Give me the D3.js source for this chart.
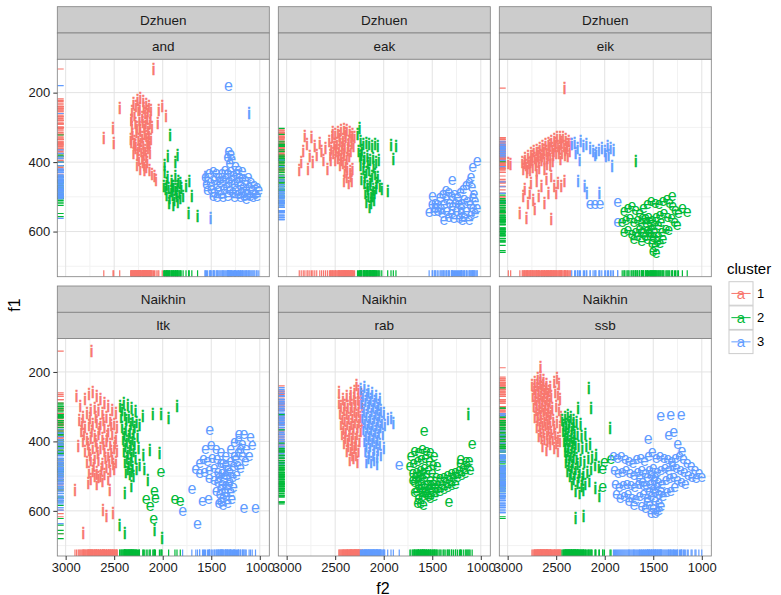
<!DOCTYPE html>
<html>
<head>
<meta charset="utf-8">
<script src="https://cdn.jsdelivr.net/npm/d3@7"></script>
<style>
body { margin: 0; background: #fff; }
text { font-family: "Liberation Sans", Arial, sans-serif; }
</style>
</head>
<body>
<script>
// facet labels
var dialects = ["Dzhuen", "Dzhuen", "Dzhuen", "Naikhin", "Naikhin", "Naikhin"];
var speakers = ["and", "eak", "eik", "ltk", "rab", "ssb"];
var clusters = ["1", "2", "3"];
var xTicks = [3000, 2500, 2000, 1500, 1000];
var xMinor = [2750, 2250, 1750, 1250];
var yTicks = [200, 400, 600];
var yMinor = [300, 500, 700];

// [f2, f1] per speaker / cluster / vowel
var and_1i = [[2095,132],[2443,245],[2324,279],[2512,303],[2607,331],[2505,346],[2324,344],[2280,353],
  [2300,230],[2260,222],[2230,218],[2200,225],[2170,235],[2140,240],[2120,250],[2180,260],[2250,250],[2290,265],
  [2320,280],[2280,290],[2240,280],[2210,270],[2160,275],[2130,290],[2110,300],[2150,305],[2190,300],[2230,310],
  [2270,315],[2310,320],[2330,335],[2290,340],[2250,335],[2210,330],[2170,325],[2140,320],[2120,335],[2160,345],
  [2200,350],[2240,355],[2280,360],[2300,375],[2260,380],[2220,370],[2180,365],[2150,360],[2130,375],[2170,385],
  [2210,390],[2245,395],[2190,410],[2160,400],[2187,423],[2136,423],[2085,442],[2068,452],[2110,435],[2230,420],
  [2265,410],[2005,240],[1966,268],[2040,250],[2050,290],
  [2315,255],[2275,240],[2235,245],[2195,245],[2155,255],[2125,270],[2205,285],[2265,300],[2185,320],[2225,340],
  [2145,335],[2295,350],[2255,365],[2195,375],[2135,350],[2235,300],[2175,290],[2315,300],[2205,400],[2170,415]];
var and_2i = [[1925,322],[1949,384],[1847,380],[1870,400],[1980,430],[1960,460],[1940,475],[1910,455],[1890,470],
  [1870,480],[1850,470],[1830,490],[1810,475],[1790,500],[1960,495],[1930,505],[1900,495],[1880,510],[1855,500],
  [1820,505],[1990,470],[1915,485],[1727,456],[1700,500],[1733,548],[1641,557],[1760,470],[1870,440],[1840,455],[1980,410],
  [1950,445],[1905,470],[1860,490],[1820,460],[1970,480],[1845,515],[1890,525],[1935,520]];
var and_3e = [[1324,180],[1320,365],[1300,375],[1330,385],[1290,390],[1310,400],[1560,440],[1520,430],[1480,425],
  [1450,430],[1420,440],[1390,430],[1360,420],[1330,430],[1300,425],[1270,435],[1240,430],[1210,440],[1180,445],
  [1150,450],[1120,440],[1090,455],[1060,465],[1030,470],[1010,480],[1550,460],[1510,455],[1470,450],[1440,460],
  [1410,455],[1380,450],[1350,445],[1320,455],[1290,450],[1260,460],[1230,455],[1200,465],[1170,470],[1140,475],
  [1110,470],[1080,480],[1050,490],[1540,480],[1500,475],[1470,485],[1430,480],[1400,490],[1370,475],[1340,470],
  [1310,480],[1280,485],[1250,480],[1220,490],[1190,485],[1160,495],[1130,490],[1100,495],[1070,500],[1030,495],
  [1480,495],[1440,500],[1380,500],[1330,495],[1260,500],[1200,500],[1140,505],[1220,420],[1180,425],[1250,410]];
var and_3i = [[1112,260],[1508,562],[1565,445]];

var eak_1i = [[2870,423],[2829,370],[2812,325],[2744,328],[2761,385],[2710,356],[2659,347],[2850,400],[2790,350],
  [2730,400],[2690,380],[2780,420],[2640,370],[2600,360],[2620,395],[2580,420],[2560,340],[2530,330],[2500,320],
  [2470,315],[2440,310],[2410,305],[2380,310],[2350,315],[2320,320],[2300,330],[2540,360],[2510,350],[2480,345],
  [2450,340],[2420,335],[2390,330],[2360,340],[2330,345],[2310,355],[2550,380],[2520,375],[2490,370],[2460,365],
  [2430,360],[2400,355],[2370,365],[2340,370],[2500,395],[2470,390],[2440,385],[2410,380],[2380,390],[2450,410],
  [2420,405],[2400,430],[2380,445],[2360,460],[2340,440],[2320,420],[2330,455],[2390,410],
  [2525,315],[2455,325],[2395,318],[2335,330],[2495,358],[2425,348],[2365,352],[2545,395],[2465,378],[2405,368],
  [2355,385],[2435,395],[2375,420],[2345,428],[2410,455]];
var eak_2i = [[2249,303],[2270,320],[2240,340],[2210,350],[2180,345],[2150,350],[2120,355],[2090,350],[2060,355],
  [1925,351],[1874,355],[1901,393],[1959,484],[2260,370],[2230,380],[2200,390],[2170,385],[2140,395],[2110,390],
  [2080,400],[2050,395],[2240,410],[2210,420],[2180,430],[2150,425],[2120,440],[2090,435],[2060,445],[2230,450],
  [2200,460],[2170,470],[2140,465],[2110,480],[2080,475],[2190,490],[2160,500],[2130,495],[2100,510],[2180,515],
  [2130,520],[2040,470],[2020,480],
  [2225,365],[2165,405],[2105,415],[2195,445],[2135,455],[2075,460],[2165,480],[2115,500],[2145,530],[2095,490],
  [2205,400],[2245,385]];
var eak_3e = [[1038,394],[1082,413],[1294,451],[1498,495],[1532,542],[1379,566],[1191,566],[1450,520],[1420,500],
  [1390,490],[1360,480],[1330,485],[1300,495],[1270,490],[1240,500],[1210,485],[1180,475],[1150,465],[1120,455],
  [1100,440],[1090,470],[1070,490],[1060,510],[1080,530],[1110,520],[1140,510],[1170,505],[1200,515],[1230,520],
  [1260,515],[1290,525],[1320,515],[1350,505],[1380,520],[1410,530],[1440,540],[1470,530],[1500,520],[1350,540],
  [1300,545],[1250,540],[1200,545],[1150,540],[1100,550],[1060,545],[1120,565],[1170,555],[1220,560],[1280,560],
  [1330,555],[1400,545],[1470,515],[1480,540],[1200,530],[1080,500],[1040,530]];

var eik_1i = [[2413,187],[2993,403],[2969,408],[2850,400],[2820,390],[2790,385],[2760,375],[2730,370],[2700,365],
  [2670,360],[2640,355],[2610,350],[2580,345],[2550,340],[2520,335],[2490,330],[2460,330],[2430,330],[2400,335],
  [2370,340],[2350,350],[2840,420],[2810,410],[2780,405],[2750,395],[2720,390],[2690,385],[2660,380],[2630,375],
  [2600,370],[2570,365],[2540,360],[2510,355],[2480,355],[2450,350],[2420,355],[2390,360],[2360,370],[2800,430],
  [2770,425],[2740,415],[2710,410],[2680,400],[2650,395],[2620,395],[2590,390],[2560,385],[2530,380],[2500,375],
  [2470,375],[2440,375],[2410,380],[2380,385],[2700,430],[2620,420],[2560,410],[2874,547],[2805,561],[2737,509],
  [2550,566],[2498,490],[2447,471],[2413,457],[2823,480],[2771,490],[2760,460],[2700,455],[2650,470],[2600,450],
  [2550,440],[2520,470],[2480,460],[2840,500],[2790,520],[2720,535],[2680,500],[2620,520],[2580,490],
  [2825,405],[2765,400],[2705,395],[2645,385],[2585,380],[2525,368],[2465,362],[2405,365],[2745,385],[2685,375],
  [2625,365],[2565,352],[2505,345],[2445,342],[2385,348],[2795,418],[2675,418],[2595,408],[2535,398],[2455,392]];
var eik_3i = [[2340,350],[2310,345],[2280,360],[2250,340],[2220,355],[2190,350],[2150,360],[2120,370],[2090,375],
  [2060,365],[2030,360],[2000,370],[1970,355],[1940,360],[1910,365],[1990,385],[1960,380],[2100,380],[2276,457],
  [2208,471],[2184,490],[2055,490],[1925,413],[2300,375],[2260,395]];
var eik_3e = [[2150,518],[2100,518],[2050,518],[1867,514],[1867,571]];
var eik_2i = [[1679,399]];
var eik_2e = [[1150,542],[1253,580],[1304,495],[1800,540],[1760,530],[1720,525],[1680,535],[1640,545],[1600,530],
  [1560,520],[1520,510],[1480,515],[1440,520],[1400,510],[1360,505],[1330,515],[1300,525],[1270,535],[1240,545],
  [1200,530],[1820,570],[1780,565],[1740,560],[1700,570],[1660,565],[1620,575],[1580,560],[1550,555],[1510,565],
  [1470,555],[1430,550],[1390,545],[1350,555],[1310,560],[1280,570],[1760,595],[1720,605],[1680,600],[1640,590],
  [1600,600],[1560,595],[1520,590],[1490,600],[1450,610],[1410,600],[1370,590],[1340,595],[1700,620],[1620,625],
  [1560,620],[1510,630],[1480,640],[1430,630],[1400,620],[1500,655],[1470,660],[1530,610],[1800,600],
  [1610,560],[1570,575],[1530,570],[1490,580],[1450,580],[1620,600],[1540,600],[1580,610],[1500,615],[1460,625],
  [1660,610],[1420,570]];

var ltk_1i = [[2734,140],[2887,270],[2819,666],[2614,598],[2580,617],[2512,608],[2546,540],[2904,540],[2768,521],
  [2870,415],[2850,300],[2800,280],[2760,265],[2720,260],[2680,270],[2640,280],[2600,290],[2560,300],[2520,310],
  [2480,320],[2860,340],[2820,330],[2780,320],[2740,310],[2700,305],[2660,310],[2620,320],[2580,330],[2540,340],
  [2500,350],[2470,360],[2840,370],[2800,360],[2760,355],[2720,350],[2680,345],[2640,350],[2600,360],[2560,370],
  [2520,380],[2480,390],[2820,400],[2780,395],[2740,390],[2700,385],[2660,380],[2620,390],[2580,400],[2540,410],
  [2500,420],[2470,430],[2800,430],[2760,425],[2720,420],[2680,415],[2640,420],[2600,430],[2560,440],[2520,450],
  [2480,460],[2780,460],[2740,455],[2700,450],[2660,455],[2620,465],[2580,475],[2540,485],[2500,480],[2760,490],
  [2720,485],[2680,490],[2640,500],[2600,495],[2560,510],[2740,510],[2680,525],
  [2830,350],[2750,335],[2690,330],[2610,340],[2530,355],[2810,380],[2730,370],[2650,365],[2570,385],[2490,405],
  [2770,410],[2690,400],[2610,410],[2530,430],[2750,440],[2670,435],[2590,450],[2510,465],[2710,470],[2630,480],
  [2550,460],[2660,505],[2700,500],[2620,515]];
var ltk_2i = [[2205,328],[2102,323],[2017,323],[1939,333],[1853,299],[2133,425],[2034,434],[2153,511],[2392,550],
  [2444,641],[2392,666],[2085,656],[2007,680],[2324,531],[2440,300],[2400,290],[2360,295],[2320,305],[2280,315],
  [2430,330],[2390,325],[2350,330],[2310,340],[2270,345],[2240,355],[2420,360],[2380,365],[2340,370],[2300,375],
  [2260,385],[2410,395],[2370,400],[2330,405],[2290,410],[2250,420],[2400,430],[2360,435],[2320,440],[2280,450],
  [2390,460],[2350,465],[2310,475],[2270,480],[2380,490],[2340,495],[2300,500],[2240,470],[2200,440],[2190,480],
  [2420,310],[2375,340],[2330,350],[2290,360],[2395,380],[2350,385],[2310,395],[2385,415],[2340,420],[2300,430],
  [2370,450],[2330,455],[2360,480],[2320,485]];
var ltk_2e = [[2017,487],[2170,564],[2129,584],[2085,540],[2075,560],[2092,622],[1874,564],[1819,571]];
var ltk_3e = [[1515,365],[1659,478],[1795,598],[1700,535],[1642,637],[1590,569],[1529,564],[1164,591],[1044,591],
  [1215,376],[1164,376],[1096,386],[1078,410],[1560,420],[1500,410],[1450,420],[1400,430],[1350,440],[1300,420],
  [1260,400],[1220,395],[1180,405],[1140,420],[1110,440],[1620,460],[1580,450],[1540,455],[1490,445],[1440,450],
  [1400,460],[1350,465],[1300,455],[1260,440],[1220,430],[1180,440],[1150,455],[1620,490],[1570,485],[1520,480],
  [1470,475],[1430,485],[1390,490],[1350,495],[1310,485],[1270,470],[1230,465],[1200,475],[1520,505],[1470,510],
  [1430,515],[1390,520],[1350,525],[1310,515],[1280,500],[1240,495],[1450,540],[1410,550],[1380,560],[1340,555],
  [1300,545],[1270,530],[1420,575],[1380,580],[1330,575],[1290,565],[1400,570],
  [1380,460],[1330,480],[1420,500],[1370,505],[1330,535],[1400,535],[1360,545],[1320,520],[1250,450],[1200,420]];

var rab_1i = [[2460,290],[2420,280],[2380,270],[2340,262],[2300,255],[2260,255],[2230,265],[2450,320],[2410,310],
  [2370,300],[2330,295],[2290,290],[2250,290],[2220,300],[2440,350],[2400,340],[2360,335],[2320,330],[2280,325],
  [2240,330],[2220,345],[2430,380],[2390,370],[2350,365],[2310,360],[2270,360],[2235,370],[2410,405],[2370,400],
  [2330,395],[2290,395],[2250,400],[2380,430],[2340,425],[2300,420],[2260,430],[2350,455],[2310,450],[2270,460],
  [2460,260],[2280,240],
  [2440,300],[2400,295],[2345,280],[2305,275],[2265,280],[2425,335],[2380,320],[2340,310],[2300,310],[2260,310],
  [2415,365],[2375,352],[2335,350],[2295,345],[2255,345],[2395,390],[2355,385],[2315,380],[2275,380],[2365,415],
  [2325,410],[2285,410],[2325,440],[2285,440]];
var rab_3i = [[2240,250],[2200,245],[2160,255],[2120,262],[2080,270],[2040,280],[2230,290],[2190,285],[2150,290],
  [2110,300],[2070,305],[2030,310],[2000,320],[2220,330],[2180,325],[2140,330],[2100,335],[2060,340],[2020,345],
  [1990,355],[2210,365],[2170,360],[2130,365],[2090,370],[2050,375],[2010,380],[2200,400],[2160,395],[2120,400],
  [2080,405],[2040,410],[2000,420],[2190,430],[2150,435],[2110,440],[2070,445],[2030,440],[2180,460],[2130,460],
  [2070,465],[1959,338],[1925,333],[1901,348],
  [2215,270],[2175,268],[2135,278],[2095,285],[2055,295],[2205,310],[2165,305],[2125,315],[2085,320],[2045,325],
  [2195,345],[2155,345],[2115,350],[2075,355],[2035,360],[2185,380],[2145,380],[2105,385],[2065,390],[2180,415],
  [2140,415],[2100,420],[2060,425],[2160,448],[2100,455]];
var rab_3e = [[1840,465]];
var rab_2e = [[1584,367],[1089,405],[1328,574],[1208,448],[1720,440],[1680,425],[1640,430],[1600,420],[1560,425],
  [1520,430],[1480,440],[1730,470],[1690,460],[1650,455],[1610,450],[1570,445],[1530,455],[1490,465],[1450,470],
  [1700,490],[1660,485],[1620,480],[1580,475],[1540,480],[1500,490],[1460,500],[1420,505],[1380,500],[1340,495],
  [1300,490],[1260,485],[1220,480],[1180,475],[1140,470],[1110,480],[1680,515],[1640,510],[1600,505],[1560,500],
  [1520,510],[1480,520],[1440,525],[1400,520],[1360,515],[1320,510],[1280,505],[1240,500],[1200,495],[1160,490],
  [1660,540],[1620,535],[1580,530],[1540,535],[1500,540],[1460,545],[1420,540],[1380,535],[1340,530],[1300,525],
  [1260,520],[1640,560],[1600,555],[1560,550],[1520,560],[1480,555],[1620,575],[1590,580],[1650,575],[1150,455],
  [1210,460],[1120,455],
  [1700,510],[1670,500],[1630,495],[1590,490],[1550,520],[1510,525],[1470,530],[1610,520],[1575,545],[1540,555],
  [1600,540],[1640,525],[1680,545]];
var rab_2i = [[1130,323]];

var ssb_1i = [[2662,188],[2750,240],[2720,230],[2690,220],[2660,215],[2630,225],[2600,235],[2560,245],[2520,230],
  [2490,220],[2470,235],[2740,270],[2710,260],[2680,250],[2650,245],[2620,255],[2590,265],[2550,270],[2510,260],
  [2480,265],[2460,280],[2730,300],[2700,290],[2670,285],[2640,280],[2610,290],[2580,300],[2540,305],[2500,300],
  [2470,310],[2450,330],[2720,330],[2690,325],[2660,320],[2630,315],[2600,325],[2570,335],[2530,340],[2490,345],
  [2460,360],[2700,360],[2670,355],[2640,350],[2610,355],[2580,365],[2550,375],[2510,380],[2480,390],[2680,385],
  [2650,390],[2620,395],[2590,400],[2560,410],[2520,420],[2480,430],[2640,415],[2600,425],[2460,400],
  [2725,250],[2695,240],[2665,232],[2635,240],[2605,250],[2575,255],[2715,280],[2685,270],[2655,265],[2625,270],
  [2595,280],[2565,285],[2705,310],[2675,305],[2645,300],[2615,305],[2585,315],[2555,320],[2690,340],[2655,335],
  [2620,340],[2590,345],[2560,350],[2520,360],[2660,370],[2630,375],[2595,380],[2565,390],[2535,395],[2500,405]];
var ssb_2i = [[2164,246],[2140,304],[1945,362],[2276,304],[2300,622],[2218,617],[2096,535],[2055,559],[2440,340],
  [2410,330],[2380,325],[2350,330],[2320,340],[2290,345],[2250,350],[2430,370],[2400,365],[2370,360],[2340,365],
  [2310,375],[2280,380],[2240,385],[2200,380],[2420,400],[2390,395],[2360,400],[2330,405],[2300,410],[2270,415],
  [2230,420],[2190,415],[2150,410],[2410,430],[2380,430],[2350,440],[2320,445],[2290,450],[2250,455],[2210,460],
  [2170,450],[2130,445],[2090,440],[2400,460],[2370,470],[2340,475],[2300,480],[2260,490],[2220,495],[2180,490],
  [2140,480],[2100,470],[2060,475],[2360,500],[2320,510],[2280,520],[2240,530],[2200,525],[2160,515],[2300,545],
  [2260,550],[2220,540],
  [2425,355],[2395,350],[2365,345],[2325,355],[2410,385],[2380,380],[2345,385],[2315,390],[2405,415],[2375,415],
  [2340,420],[2310,425],[2395,445],[2365,450],[2330,460],[2280,465],[2385,485],[2350,490],[2310,495],[2340,525],
  [2270,505],[2230,510]];
var ssb_2e = [[2020,478],[2003,459],[2020,530],[1935,449]];
var ssb_3e = [[1423,326],[1321,321],[1212,321],[1553,391],[1341,381],[1290,370],[1249,405],[1205,425],[1910,440],
  [1870,445],[1830,440],[1790,450],[1750,455],[1710,460],[1670,450],[1630,445],[1590,455],[1550,440],[1510,430],
  [1470,445],[1430,440],[1390,445],[1350,450],[1310,455],[1270,445],[1230,440],[1190,450],[1150,460],[1110,470],
  [1070,480],[1030,490],[1000,500],[1900,480],[1860,490],[1820,485],[1780,480],[1740,490],[1700,495],[1660,485],
  [1620,480],[1580,490],[1540,480],[1500,475],[1460,485],[1420,480],[1380,475],[1340,480],[1300,470],[1260,475],
  [1220,480],[1180,485],[1140,495],[1100,500],[1060,505],[1890,520],[1850,530],[1810,525],[1770,520],[1730,525],
  [1690,530],[1650,520],[1610,515],[1570,525],[1530,520],[1490,510],[1450,515],[1410,520],[1370,510],[1330,505],
  [1290,500],[1250,510],[1210,515],[1170,520],[1880,550],[1840,560],[1800,555],[1760,550],[1720,560],[1680,565],
  [1640,555],[1600,550],[1560,560],[1520,555],[1480,545],[1440,550],[1400,555],[1360,545],[1320,540],[1280,530],
  [1620,585],[1580,590],[1540,580],[1500,590],[1460,600],[1420,585],[1520,605],[1480,605],[1440,595],[1700,580],
  [1750,570],
  [1560,500],[1520,495],[1480,500],[1540,540],[1500,535],[1460,530],[1420,540],[1560,570],[1480,570],[1440,575],
  [1600,525],[1640,505]];

// groups per panel: [points, cluster, vowel]
var panelGroups = {
  and: [[and_1i, "1", "i"], [and_2i, "2", "i"], [and_3e, "3", "e"], [and_3i, "3", "i"]],
  eak: [[eak_1i, "1", "i"], [eak_2i, "2", "i"], [eak_3e, "3", "e"]],
  eik: [[eik_1i, "1", "i"], [eik_3i, "3", "i"], [eik_3e, "3", "e"], [eik_2i, "2", "i"], [eik_2e, "2", "e"]],
  ltk: [[ltk_1i, "1", "i"], [ltk_2i, "2", "i"], [ltk_2e, "2", "e"], [ltk_3e, "3", "e"]],
  rab: [[rab_1i, "1", "i"], [rab_3i, "3", "i"], [rab_3e, "3", "e"], [rab_2e, "2", "e"], [rab_2i, "2", "i"]],
  ssb: [[ssb_1i, "1", "i"], [ssb_2i, "2", "i"], [ssb_2e, "2", "e"], [ssb_3e, "3", "e"]]
};

var W = 781, H = 595;
var colLeft = [57.3, 278.3, 499.3];
var rowTop = [6.7, 286];
var pw = 212, stripH = 26.3, ph = 217.4;

var color = d3.scaleOrdinal().domain(clusters).range(["#F8766D", "#00BA38", "#619CFF"]);
var x = d3.scaleLinear().domain([3086, 902]).range([0, pw]);
var y = d3.scaleLinear().domain([104, 730]).range([0, ph]);

var svg = d3.select("body").append("svg").attr("width", W).attr("height", H);

speakers.forEach(function(sp, i) {
  var col = i % 3, row = Math.floor(i / 3);
  var g = svg.append("g").attr("transform", "translate(" + colLeft[col] + "," + rowTop[row] + ")");

  // strips
  [dialects[i], sp].forEach(function(lab, k) {
    g.append("rect").attr("x", 0).attr("y", k * stripH).attr("width", pw).attr("height", stripH)
      .attr("fill", "#CCCCCC").attr("stroke", "#7F7F7F").attr("stroke-width", 0.8);
    g.append("text").attr("x", pw / 2).attr("y", k * stripH + stripH / 2).attr("dy", "0.35em")
      .attr("text-anchor", "middle").attr("font-size", 13.5).attr("fill", "#1A1A1A").text(lab);
  });

  var p = g.append("g").attr("transform", "translate(0," + (2 * stripH) + ")");
  p.append("clipPath").attr("id", "clip" + i).append("rect").attr("width", pw).attr("height", ph);
  p.append("rect").attr("width", pw).attr("height", ph).attr("fill", "#fff");

  // grid
  p.selectAll(".vmin").data(xMinor).enter().append("line")
    .attr("x1", d => x(d)).attr("x2", d => x(d)).attr("y1", 0).attr("y2", ph)
    .attr("stroke", "#F2F2F2").attr("stroke-width", 1);
  p.selectAll(".hmin").data(yMinor).enter().append("line")
    .attr("y1", d => y(d)).attr("y2", d => y(d)).attr("x1", 0).attr("x2", pw)
    .attr("stroke", "#F2F2F2").attr("stroke-width", 1);
  p.selectAll(".vmaj").data(xTicks).enter().append("line")
    .attr("x1", d => x(d)).attr("x2", d => x(d)).attr("y1", 0).attr("y2", ph)
    .attr("stroke", "#E3E3E3").attr("stroke-width", 1);
  p.selectAll(".hmaj").data(yTicks).enter().append("line")
    .attr("y1", d => y(d)).attr("y2", d => y(d)).attr("x1", 0).attr("x2", pw)
    .attr("stroke", "#E3E3E3").attr("stroke-width", 1);

  var marks = p.append("g").attr("clip-path", "url(#clip" + i + ")");
  var pts = [];
  panelGroups[sp].forEach(function(grp) {
    grp[0].forEach(function(d) { pts.push({f2: d[0], f1: d[1], cl: grp[1], v: grp[2]}); });
  });

  // points as vowel labels (the "i" strokes a little thicker, as in the original)
  marks.selectAll("text.pt").data(pts).enter().append("text")
    .attr("class", "pt")
    .attr("x", d => x(d.f2)).attr("y", d => y(d.f1)).attr("dy", "0.35em")
    .attr("text-anchor", "middle").attr("font-size", 16)
    .attr("fill", d => color(d.cl))
    .attr("stroke", d => d.v === "i" ? color(d.cl) : "none")
    .attr("stroke-width", 0.6)
    .text(d => d.v);

  // rugs
  marks.selectAll("line.rx").data(pts).enter().append("line")
    .attr("x1", d => x(d.f2)).attr("x2", d => x(d.f2))
    .attr("y1", ph).attr("y2", ph - 6.5)
    .attr("stroke", d => color(d.cl)).attr("stroke-width", 1.2);
  marks.selectAll("line.ry").data(pts).enter().append("line")
    .attr("y1", d => y(d.f1)).attr("y2", d => y(d.f1))
    .attr("x1", 0).attr("x2", 6.4)
    .attr("stroke", d => color(d.cl)).attr("stroke-width", 1.2);

  p.append("rect").attr("width", pw).attr("height", ph)
    .attr("fill", "none").attr("stroke", "#7F7F7F").attr("stroke-width", 0.8);

  // axes
  if (col === 0) {
    var ya = p.append("g").call(d3.axisLeft(y).tickValues(yTicks).tickSize(4).tickPadding(3));
    ya.select(".domain").remove();
    ya.selectAll("line").attr("stroke", "#333");
    ya.selectAll("text").attr("font-size", 13).attr("fill", "#1A1A1A")
      .attr("font-family", "Liberation Sans, Arial, sans-serif");
  }
  if (row === 1) {
    var xa = p.append("g").attr("transform", "translate(0," + ph + ")")
      .call(d3.axisBottom(x).tickValues(xTicks).tickFormat(d3.format("d")).tickSize(4).tickPadding(3));
    xa.select(".domain").remove();
    xa.selectAll("line").attr("stroke", "#333");
    xa.selectAll("text").attr("font-size", 13).attr("fill", "#1A1A1A")
      .attr("font-family", "Liberation Sans, Arial, sans-serif");
  }
});

// axis titles
svg.append("text").attr("x", 383).attr("y", 594).attr("text-anchor", "middle")
  .attr("font-size", 16).attr("fill", "#000").text("f2");
svg.append("text").attr("transform", "translate(20,305) rotate(-90)").attr("text-anchor", "middle")
  .attr("font-size", 16).attr("fill", "#000").text("f1");

// legend
var leg = svg.append("g").attr("transform", "translate(729,0)");
leg.append("text").attr("x", -2).attr("y", 274).attr("font-size", 15).attr("fill", "#000").text("cluster");
clusters.forEach(function(c, k) {
  var ky = 281.7 + k * 24.2;
  leg.append("rect").attr("x", 0).attr("y", ky).attr("width", 24).attr("height", 23.5)
    .attr("fill", "#fff").attr("stroke", "#CCCCCC").attr("stroke-width", 1);
  leg.append("line").attr("x1", 2.4).attr("x2", 21.6).attr("y1", ky + 11.75).attr("y2", ky + 11.75)
    .attr("stroke", color(c)).attr("stroke-width", 1);
  leg.append("text").attr("x", 12).attr("y", ky + 11.75).attr("dy", "0.35em").attr("text-anchor", "middle")
    .attr("font-size", 15).attr("fill", color(c)).text("a");
  leg.append("text").attr("x", 28).attr("y", ky + 11.75).attr("dy", "0.35em")
    .attr("font-size", 13).attr("fill", "#000").text(c);
});
</script>
</body>
</html>
